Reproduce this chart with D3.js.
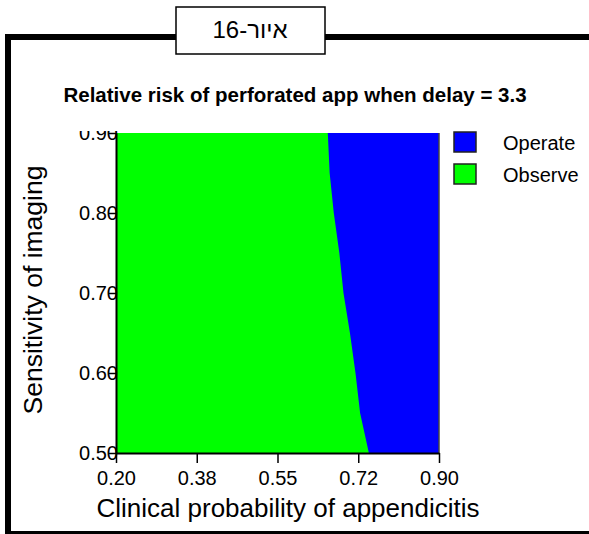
<!DOCTYPE html>
<html>
<head>
<meta charset="utf-8">
<script src="https://cdn.jsdelivr.net/npm/d3@7"></script>
<style>
body { margin: 0; background: #fff; }
text { font-family: "Liberation Sans", Arial, sans-serif; fill: #000; }
</style>
</head>
<body>
<div id="chart"></div>
<script>
// tick values and their printed labels
var probTicks = [0.2, 0.375, 0.55, 0.725, 0.9];
var probLabels = ["0.20", "0.38", "0.55", "0.72", "0.90"];
var sensTicks = [0.5, 0.6, 0.7, 0.8, 0.9];
var sensLabels = ["0.50", "0.60", "0.70", "0.80", "0.90"];

// decision boundary: for each sensitivity, the clinical probability above which "Operate" wins
var sensitivity = [0.50, 0.55, 0.60, 0.65, 0.70, 0.75, 0.80, 0.85, 0.90];
var threshold   = [0.748, 0.729, 0.719, 0.707, 0.693, 0.684, 0.672, 0.663, 0.659];

var strategies = ["Operate", "Observe"];
var colors = ["#0000ff", "#00ff00"];

var width = 589;
var height = 534;
var margin = {top: 133, right: 150, bottom: 81, left: 116};
var w = width - margin.left - margin.right;   // 323
var h = height - margin.top - margin.bottom;  // 320

var svg = d3.select("#chart").append("svg")
    .attr("width", width)
    .attr("height", height);

// outer frame (thick black lines), broken by the figure-number box
var frame = svg.append("g")
    .attr("fill", "none")
    .attr("stroke", "#000")
    .attr("stroke-width", 6);
frame.append("line").attr("x1", 8).attr("y1", 34).attr("x2", 8).attr("y2", height);
frame.append("line").attr("x1", 5).attr("y1", 37).attr("x2", 177).attr("y2", 37);
frame.append("line").attr("x1", 324).attr("y1", 37).attr("x2", width).attr("y2", 37);
frame.append("line").attr("x1", 5).attr("y1", 534).attr("x2", width).attr("y2", 534);

svg.append("rect")
    .attr("x", 176).attr("y", 7)
    .attr("width", 149).attr("height", 47)
    .attr("fill", "#fff")
    .attr("stroke", "#000")
    .attr("stroke-width", 1.5);

svg.append("text")
    .attr("x", 250).attr("y", 38)
    .attr("direction", "rtl")
    .style("text-anchor", "middle")
    .style("font-size", "24px")
    .text("איור-16");

svg.append("text")
    .attr("x", 295).attr("y", 102)
    .style("text-anchor", "middle")
    .style("font-size", "20.5px")
    .style("font-weight", "bold")
    .text("Relative risk of perforated app when delay = 3.3");

var x = d3.scaleLinear()
    .domain([0.2, 0.9])
    .range([0, w]);

var y = d3.scaleLinear()
    .domain([0.5, 0.9])
    .range([h, 0]);

var g = svg.append("g")
    .attr("transform", "translate(" + margin.left + "," + margin.top + ")");

// Operate region fills the plot, Observe region drawn over it on the left
g.append("rect")
    .attr("width", w)
    .attr("height", h)
    .attr("fill", colors[0]);

var boundary = sensitivity.map(function(s, i) { return {s: s, t: threshold[i]}; });

var area = d3.area()
    .y(function(d) { return y(d.s); })
    .x0(x(0.2))
    .x1(function(d) { return x(d.t); });

g.append("path")
    .datum(boundary)
    .attr("d", area)
    .attr("fill", colors[1]);

// right border
g.append("line")
    .attr("x1", w).attr("x2", w)
    .attr("y1", 0).attr("y2", h)
    .attr("stroke", "#444")
    .attr("stroke-width", 1.5);

var xAxis = d3.axisBottom(x)
    .tickValues(probTicks)
    .tickFormat(function(d, i) { return probLabels[i]; })
    .tickSize(10)
    .tickSizeOuter(0)
    .tickPadding(8);

var xg = g.append("g")
    .attr("class", "axis x")
    .attr("transform", "translate(0," + h + ")")
    .call(xAxis);

// clip so the top tick label is cut off at the plot top, like the original
svg.append("clipPath")
    .attr("id", "yclip")
  .append("rect")
    .attr("x", -margin.left)
    .attr("y", -2)
    .attr("width", margin.left + 10)
    .attr("height", h + 30);

var yAxis = d3.axisLeft(y)
    .tickValues(sensTicks)
    .tickFormat(function(d, i) { return sensLabels[i]; })
    .tickSize(8)
    .tickSizeOuter(0)
    .tickPadding(-10);

var yg = g.append("g")
    .attr("class", "axis y")
    .attr("clip-path", "url(#yclip)")
    .call(yAxis);

[xg, yg].forEach(function(a) {
    a.attr("font-size", 20)
     .attr("font-family", "'Liberation Sans', Arial, sans-serif");
    a.selectAll("path.domain").attr("stroke-width", 2);
    a.selectAll(".tick line").attr("stroke-width", 1.5);
});

svg.append("text")
    .attr("x", 288).attr("y", 517)
    .style("text-anchor", "middle")
    .style("font-size", "26px")
    .text("Clinical probability of appendicitis");

svg.append("text")
    .attr("transform", "translate(42,290) rotate(-90)")
    .style("text-anchor", "middle")
    .style("font-size", "26.5px")
    .text("Sensitivity of imaging");

// legend
var legend = svg.selectAll(".legend")
    .data(strategies)
  .enter().append("g")
    .attr("class", "legend")
    .attr("transform", function(d, i) { return "translate(454," + (132 + i * 32) + ")"; });

legend.append("rect")
    .attr("width", 22)
    .attr("height", 20)
    .attr("fill", function(d, i) { return colors[i]; })
    .attr("stroke", "#222")
    .attr("stroke-width", 1.5);

legend.append("text")
    .attr("x", 49)
    .attr("y", 18)
    .style("font-size", "20px")
    .text(function(d) { return d; });
</script>
</body>
</html>
